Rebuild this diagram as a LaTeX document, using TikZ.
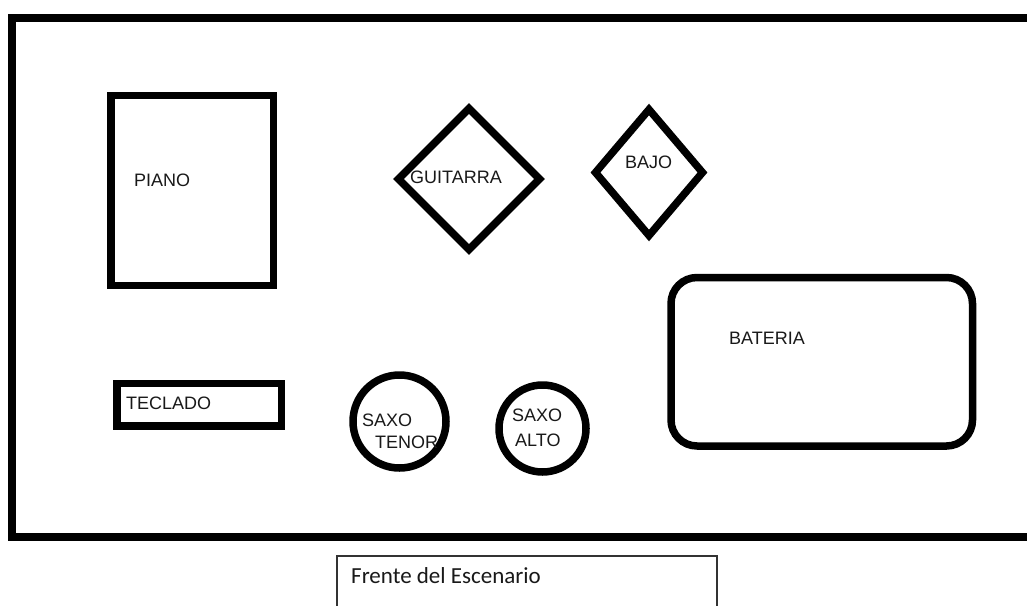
\documentclass[tikz,border=0pt]{standalone}
\usepackage{fontspec}
\setmainfont{Liberation Sans}
\newfontfamily\calfont{Carlito}
\usetikzlibrary{shapes.geometric}
\tikzset{
  thick shape/.style={draw=black, line width=7.5pt, inner sep=0pt, outer sep=0pt},
  boxshape/.style={thick shape, rectangle},
  diamshape/.style={thick shape, diamond},
  circshape/.style={thick shape, circle},
  lbl/.style={anchor=base west, inner sep=0pt, text=black!90, font=\fontsize{18}{20}\selectfont},
}
\begin{document}
\begin{tikzpicture}[x=1pt,y=-1pt]
\useasboundingbox (0,0) rectangle (1027,605);
\clip (0,0) rectangle (1027,605);
\fill[white] (0,0) rectangle (1027,605);
% stage outline
\coordinate (tr) at (1040,18);
\coordinate (tl) at (12,18);
\coordinate (bl) at (12,537);
\coordinate (br) at (1040,537);
\draw[line width=8pt] (tr) -- (tl) -- (bl) -- (br);
% piano
\node[boxshape, minimum width=162.5pt, minimum height=190pt] (piano) at (192.25,190.5) {};
\node[lbl] (pianot) at (134,186.5) {PIANO};
% guitarra
\node[diamshape, minimum width=141pt, minimum height=141pt] (guit) at (469,179) {};
\node[lbl] (guitt) at (410,183.5) {GUITARRA};
% bajo
\node[diamshape, minimum width=107pt, minimum height=126pt] (bajo) at (649,172.5) {};
\node[lbl] (bajot) at (625,168.5) {BAJO};
% bateria
\node[boxshape, rounded corners=26pt, minimum width=301.5pt, minimum height=168.5pt] (bat) at (821.75,361.75) {};
\node[lbl] (batt) at (729,344.5) {BATERIA};
% teclado
\node[boxshape, minimum width=164.5pt, minimum height=42.5pt] (tec) at (199.25,404.75) {};
\node[lbl] (tect) at (126,409.5) {TECLADO};
% saxo tenor
\node[circshape, minimum size=93pt] (tenor) at (399.5,421.5) {};
\node[lbl] (tenor1) at (362,426.5) {SAXO};
\node[lbl] (tenor2) at (375,448.5) {TENOR};
% saxo alto
\node[circshape, minimum size=87pt] (alto) at (542.5,428.5) {};
\node[lbl] (alto1) at (512,421.5) {SAXO};
\node[lbl] (alto2) at (515,446.5) {ALTO};
% frente
\node[draw=black!80, line width=1.5pt, rectangle, minimum width=380pt, minimum height=80pt, inner sep=0pt] (frente) at (527,596) {};
\node[anchor=base west, inner sep=0pt, text=black!90, font=\calfont\fontsize{23}{26}\selectfont] (frentet) at (351,583.5) {Frente del Escenario};
\end{tikzpicture}
\end{document}
